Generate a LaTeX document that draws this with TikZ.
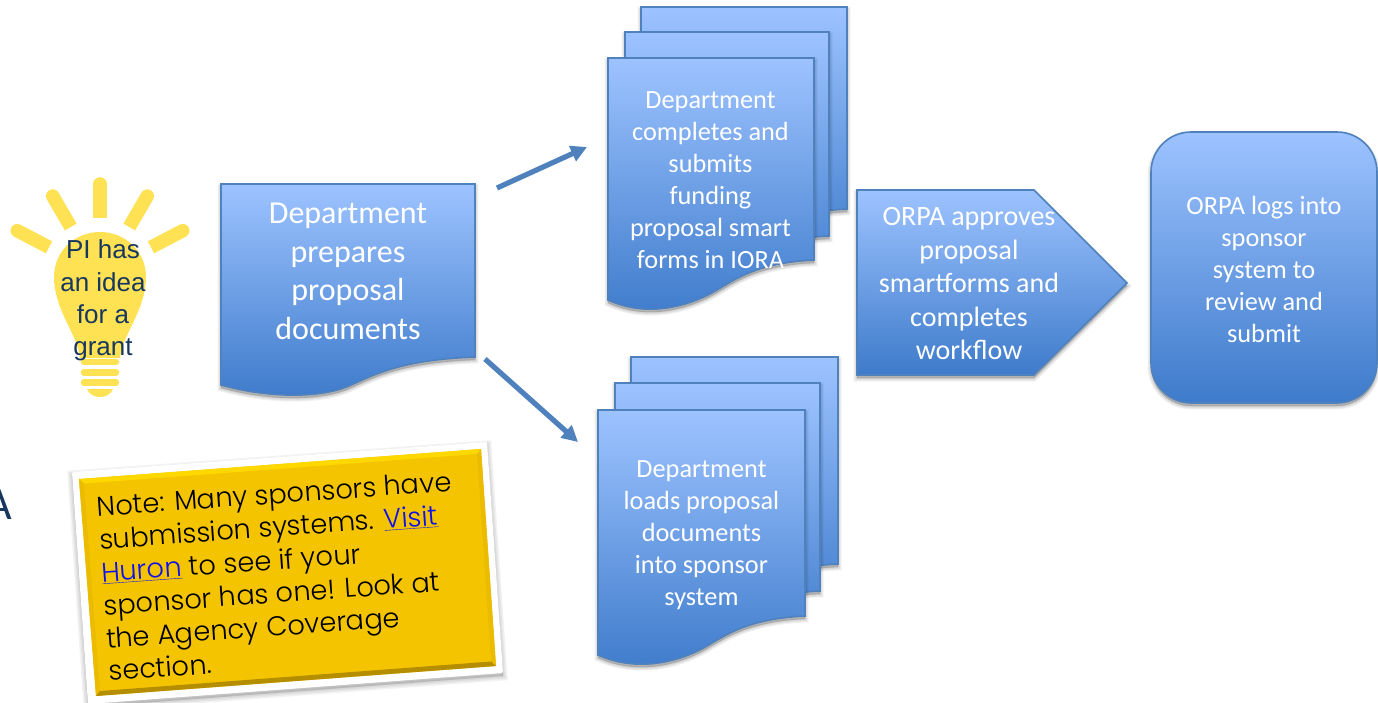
\documentclass[tikz,border=0pt]{standalone}
\usepackage{fontspec}
\setmainfont{Carlito}
\newfontfamily\notefont{Poppins Light}
\newfontfamily\arialfont{Liberation Sans}
\usetikzlibrary{arrows.meta,calc}
\definecolor{gradtop}{HTML}{9DC3FF}
\definecolor{gradbot}{HTML}{3E7BCB}
\definecolor{edgeblue}{HTML}{4F81BD}
\definecolor{bulbyellow}{HTML}{FFE253}
\definecolor{navy}{HTML}{17375E}
\definecolor{gold}{HTML}{F5C400}
\definecolor{goldhi}{HTML}{FFD800}
\definecolor{goldlo}{HTML}{B58E00}
\definecolor{goldmid}{HTML}{EBBB00}
\definecolor{linkblue}{HTML}{1010EE}
\tikzset{
  x=1pt,y=-1pt,
  blueshape/.style={draw=edgeblue,line width=1.6pt,top color=gradtop,bottom color=gradbot,line join=miter},
  softlayer/.style={fill=black,draw=black,opacity=0.05,shift={(0,3)}},
  txt/.style={text=white,align=center,inner sep=0pt},
  txtl/.style={txt,font=\fontsize{32}{38.5}\selectfont},
  txtm/.style={txt,font=\fontsize{26.3}{32}\selectfont},
  txtp/.style={txt,font=\fontsize{28}{33.5}\selectfont},
  flowarrow/.style={draw=edgeblue,line width=5.2pt,-{Triangle[length=16pt,width=16pt]},shorten >=0pt},
  raybar/.style={draw=bulbyellow,line width=13.5pt},
  socket/.style={draw=bulbyellow,line width=6.5pt,line cap=round},
}
\newcommand\paintshape[1]{%
  \path[softlayer,line width=7pt] #1;
  \path[softlayer,line width=5pt] #1;
  \path[softlayer,line width=3pt] #1;
  \path[softlayer,line width=1pt] #1;
  \path[blueshape] #1;
}
% left, right, top, right-bottom, left-bottom
\newcommand\docsheet[5]{\paintshape{(#1,#3) -- (#2,#3) -- (#2,#4)
  .. controls ({#2-0.3*(#2-#1)},{#4+3}) and ({#1+0.6*(#2-#1)},{#4+20+(#5-#4)/3-11}) .. ({#1+0.5*(#2-#1)},{#4+20+(#5-#4)/3})
  .. controls ({#1+0.4*(#2-#1)},{#4+31+(#5-#4)/3}) and ({#1+0.2*(#2-#1)},{#5+3+0.4*(#5-#4)}) .. (#1,#5) -- cycle}}
\newcommand\lightray[2]{%
  \draw[raybar,line cap=round] #1 -- ($#1!0.5!#2$);
  \draw[raybar] ($#1!0.5!#2$) -- #2;
}
\begin{document}
\begin{tikzpicture}
\useasboundingbox (0,0) rectangle (1378,702);
\clip (0,0) rectangle (1378,702);
\fill[white] (0,0) rectangle (1378,702);

% cut-off letter at the left edge
\node[anchor=east,inner sep=0pt,text=navy,font=\fontsize{46}{46}\selectfont] (cutletter) at (12,505) {A};

% light bulb
\lightray{(100,184)}{(100,218)}
\lightray{(52.7,196)}{(70.7,227)}
\lightray{(147.3,196)}{(129.3,227)}
\lightray{(17.3,230.7)}{(49,247.3)}
\lightray{(182.7,230.7)}{(151,247.3)}
\fill[bulbyellow] (80,358) .. controls (78,335) and (54,310) .. (54,277)
  .. controls (54,251) and (75,232) .. (100,232)
  .. controls (125,232) and (146,251) .. (146,277)
  .. controls (146,310) and (122,335) .. (120,358) -- cycle;
\draw[socket] (84,362) -- (116,362);
\draw[socket] (84,372.5) -- (116,372.5);
\draw[socket] (84,382.5) -- (116,382.5);
\fill[bulbyellow] (87,389) -- (113,389) .. controls (111,394) and (106,397) .. (100,397)
  .. controls (94,397) and (89,394) .. (87,389) -- cycle;
\node[inner sep=0pt,align=center,text=navy,font=\arialfont\fontsize{26}{32.2}\selectfont] (idea) at (103,300.5) {PI has\\an idea\\for a\\grant};

% department prepares
\docsheet{221}{475}{184}{357}{385}
\node[txtl] (prep) at (348,271.5) {Department\\prepares\\proposal\\documents};

% upper stack
\docsheet{641}{847}{7}{209}{249}
\docsheet{625}{829}{32}{236}{276}
\docsheet{608}{814}{58}{260}{300}
\node[txtm] (forms) at (710.5,180) {Department\\completes and\\submits\\funding\\proposal smart\\forms in IORA};

% lower stack
\docsheet{631}{838}{357}{564}{604}
\docsheet{615}{820}{383}{591}{631}
\docsheet{598}{805}{410}{616}{655}
\node[txtm] (load) at (701.5,535.5) {Department\\loads proposal\\documents\\into sponsor\\system};

% ORPA approves
\paintshape{(857,190) -- (1034,190) -- (1127,283) -- (1034,375) -- (857,375) -- cycle}
\node[txtp] (orpaone) at (969,284) {ORPA approves\\proposal\\smartforms and\\completes\\workflow};

% ORPA logs in
\paintshape{[rounded corners=40pt] (1151,132) -- (1377,132) -- (1377,403) -- (1151,403) -- cycle}
\node[txtm] (orpatwo) at (1264,269) {ORPA logs into\\sponsor\\system to\\review and\\submit};

% arrows
\coordinate (aonestart) at (497,188);
\coordinate (aoneend) at (587,147);
\coordinate (atwostart) at (485,359);
\coordinate (atwoend) at (578,442);
\draw[flowarrow] (aonestart) -- (aoneend);
\draw[flowarrow] (atwostart) -- (atwoend);

% note card
\path[softlayer,line width=9pt] (72,472) -- (487,442) -- (503,673) -- (88,704) -- cycle;
\path[softlayer,line width=6pt] (72,472) -- (487,442) -- (503,673) -- (88,704) -- cycle;
\path[softlayer,line width=3pt] (72,472) -- (487,442) -- (503,673) -- (88,704) -- cycle;
\fill[white,rounded corners=2pt] (72,472) -- (487,442) -- (503,673) -- (88,704) -- cycle;
\fill[gold] (79,479) -- (481,449) -- (496,666) -- (96,696) -- cycle;
\fill[goldhi] (79,479) -- (481,449) -- (477,454) -- (84,483.5) -- cycle;
\fill[goldmid] (79,479) -- (84,483.5) -- (100,691) -- (96,696) -- cycle;
\fill[goldmid] (481,449) -- (477,454) -- (491,661.5) -- (496,666) -- cycle;
\fill[goldlo] (96,696) -- (100,691) -- (491,661.5) -- (496,666) -- cycle;
\node[rotate=4.1,inner sep=0pt,align=left,text=black,font=\notefont\fontsize{27.2}{33}\selectfont] (note) at (280,576)
  {Note: Many sponsors have\\submission systems. \textcolor{linkblue}{\underline{Visit}}\\\textcolor{linkblue}{\underline{Huron}} to see if your\\sponsor has one! Look at\\the Agency Coverage\\section.};
\end{tikzpicture}
\end{document}
